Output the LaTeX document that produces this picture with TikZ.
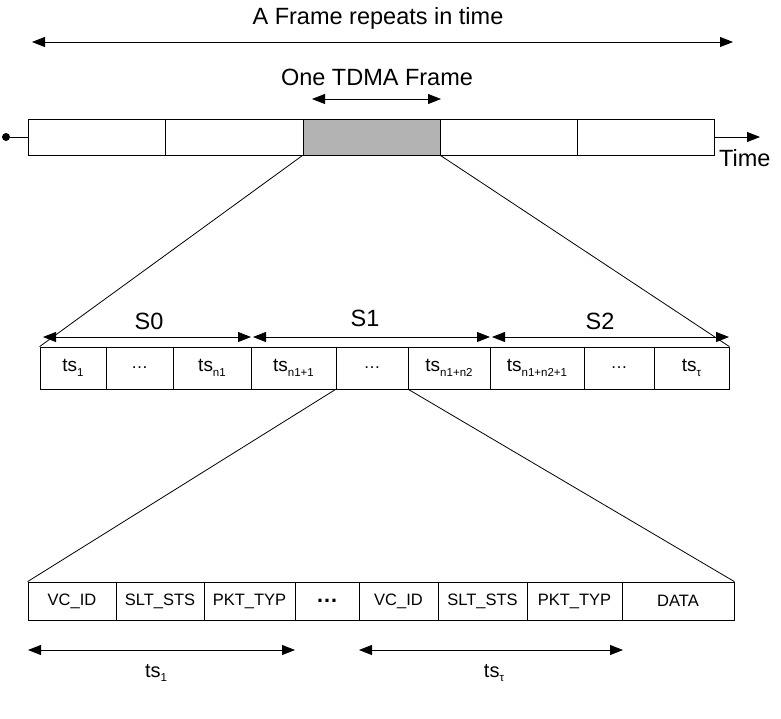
\documentclass[tikz,border=0pt]{standalone}
\usepackage{fontspec}
\setmainfont{Liberation Sans}
\usetikzlibrary{arrows.meta}
\newcommand{\subtxt}[1]{\raisebox{-0.45ex}{\fontsize{11.5}{11.5}\selectfont #1}}
\tikzset{
  tip/.tip={Triangle[length=13pt,width=10pt]},
  cell/.style={draw, line width=0.8pt, inner sep=0pt, font=\fontsize{19}{19}\selectfont},
  fcell/.style={draw, line width=0.8pt, inner sep=0pt, minimum height=36pt},
  mcell/.style={cell, minimum height=42pt},
  bcell/.style={cell, minimum height=38pt, font=\fontsize{16.5}{16.5}\selectfont},
  dimarrow/.style={line width=0.8pt, tip-tip},
  bigtext/.style={font=\fontsize{23.5}{23.5}\selectfont, inner sep=0pt},
  conn/.style={line width=0.8pt}
}
\begin{document}
\begin{tikzpicture}[x=1pt,y=-1pt]
\useasboundingbox (0,0) rectangle (781,718);
% top
\node[bigtext] (title) at (378,18) {A Frame repeats in time};
\coordinate (ta) at (32,42); \coordinate (tb) at (733,42);
\draw[dimarrow] (ta) -- (tb);
\node[bigtext] (one) at (377,77) {One TDMA Frame};
\coordinate (oa) at (312,99); \coordinate (ob) at (441,99);
\draw[dimarrow] (oa) -- (ob);
% frame bar
\node[fcell, minimum width=137pt] (f1) at (96.5,137) {};
\node[fcell, minimum width=138pt] (f2) at (234,137) {};
\node[fcell, minimum width=137pt, fill={rgb,255:red,179;green,179;blue,179}] (f3) at (371.5,137) {};
\node[fcell, minimum width=137pt] (f4) at (508.5,137) {};
\node[fcell, minimum width=137pt] (f5) at (645.5,137) {};
\node[circle, fill, inner sep=0pt, minimum size=8pt] (dot) at (6,137) {};
\draw[conn] (dot) -- (f1.west);
\coordinate (tend) at (760,137);
\draw[conn, -tip] (f5.east) -- (tend);
\node[bigtext, anchor=west] (time) at (719,158) {Time};
% middle bar
\node[mcell, minimum width=66pt] (m1) at (73,368) {ts\subtxt{1}};
\node[mcell, minimum width=67pt, font=\fontsize{17}{17}\selectfont] (m2) at (139.5,368) {…};
\node[mcell, minimum width=78pt] (m3) at (212,368) {ts\subtxt{n1}};
\node[mcell, minimum width=85pt] (m4) at (293.5,368) {ts\subtxt{n1+1}};
\node[mcell, minimum width=72pt, font=\fontsize{17}{17}\selectfont] (m5) at (372,368) {…};
\node[mcell, minimum width=82pt] (m6) at (449,368) {ts\subtxt{n1+n2}};
\node[mcell, minimum width=94pt] (m7) at (537,368) {ts\subtxt{n1+n2+1}};
\node[mcell, minimum width=70pt, font=\fontsize{17}{17}\selectfont] (m8) at (619,368) {…};
\node[mcell, minimum width=75pt] (m9) at (691.5,368) {ts\subtxt{τ}};
\draw[conn] (f3.south west) -- (m1.north west);
\draw[conn] (f3.south east) -- (m9.north east);
% S arrows
\coordinate (s0a) at (43,337); \coordinate (s0b) at (251,337);
\coordinate (s1a) at (253,337); \coordinate (s1b) at (490,337);
\coordinate (s2a) at (492,337); \coordinate (s2b) at (729,337);
\draw[dimarrow] (s0a) -- (s0b);
\draw[dimarrow] (s1a) -- (s1b);
\draw[dimarrow] (s2a) -- (s2b);
\node[bigtext] (S0) at (149,321) {S0};
\node[bigtext] (S1) at (365,318) {S1};
\node[bigtext] (S2) at (600,321) {S2};
% bottom bar
\node[bcell, minimum width=88pt] (b1) at (72,601) {VC\_ID};
\node[bcell, minimum width=88pt] (b2) at (160,601) {SLT\_STS};
\node[bcell, minimum width=91pt] (b3) at (249.5,601) {PKT\_TYP};
\node[bcell, minimum width=64pt, font=\fontsize{22}{22}\selectfont\bfseries] (b4) at (327,601) {…};
\node[bcell, minimum width=79pt] (b5) at (398.5,601) {VC\_ID};
\node[bcell, minimum width=89pt] (b6) at (482.5,601) {SLT\_STS};
\node[bcell, minimum width=95pt] (b7) at (574.5,601) {PKT\_TYP};
\node[bcell, minimum width=112pt] (b8) at (678,601) {DATA};
\draw[conn] (m5.south west) -- (b1.north west);
\draw[conn] (m5.south east) -- (b8.north east);
% bottom arrows
\coordinate (ua) at (28,650); \coordinate (ub) at (295,650);
\coordinate (va) at (359,650); \coordinate (vb) at (623,650);
\draw[dimarrow] (ua) -- (ub);
\draw[dimarrow] (va) -- (vb);
\node[font=\fontsize{20}{20}\selectfont, inner sep=0pt] (l1) at (156,673) {ts\subtxt{1}};
\node[font=\fontsize{20}{20}\selectfont, inner sep=0pt] (l2) at (494,673) {ts\subtxt{τ}};
\end{tikzpicture}
\end{document}
